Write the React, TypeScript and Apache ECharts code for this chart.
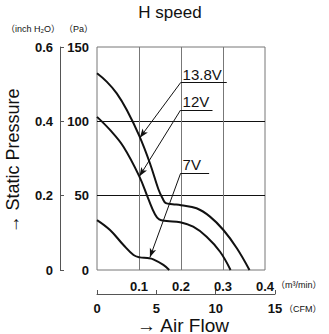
import React, { useEffect, useRef } from "react";
import * as echarts from "echarts";

// Air flow (m³/min) and static pressure (Pa)
const flow138 = [0, 0.023, 0.047, 0.071, 0.101, 0.126, 0.146, 0.156, 0.164, 0.18, 0.2, 0.237, 0.269, 0.301, 0.333, 0.363];
const pres138 = [132.3, 126.7, 118.8, 107.6, 90, 71.8, 54.5, 48.2, 45, 44.3, 43.6, 41.5, 35.9, 26.9, 14.6, 0];

const flow12 = [0, 0.031, 0.063, 0.101, 0.122, 0.138, 0.148, 0.166, 0.198, 0.229, 0.261, 0.293, 0.318];
const pres12 = [103, 94.2, 82.9, 62.8, 48, 37.5, 34, 33, 32.1, 29.1, 22.4, 12.3, 0];

const flow7 = [0, 0.031, 0.063, 0.087, 0.102, 0.12, 0.134, 0.158, 0.172];
const pres7 = [33.6, 26.9, 16.8, 10.1, 8.5, 8, 7.2, 3.4, 0];

const seriesNames = ["13.8V", "12V", "7V"];
// annotation leader lines in data units: underline y, underline end x, arrow tip
const labelLineStartX = 0.199;
const labelLineY = [126, 107.6, 65];
const labelLineEndX = [0.309, 0.275, 0.267];
const arrowTips = [
  [0.102, 89],
  [0.101, 63],
  [0.126, 8.5],
];

const cfmTicks = [0, 5, 10, 15];

const NUM_FONT = "'Liberation Sans Narrow', 'Liberation Sans', Arial, sans-serif";
const TEXT_FONT = "'Liberation Sans', Arial, sans-serif";
const UNIT_FONT = "'Liberation Sans', 'Noto Sans CJK JP', sans-serif";

function zip(xs: number[], ys: number[]) {
  return xs.map((x, i) => [x, ys[i]]);
}

export default function App() {
  const ref = useRef<HTMLDivElement>(null);
  useEffect(() => {
    if (!ref.current) return;
    const chart = echarts.init(ref.current, undefined, { renderer: "svg" });
    const curves = [zip(flow138, pres138), zip(flow12, pres12), zip(flow7, pres7)];
    const series: any[] = curves.map((data, i) => ({
      type: "line",
      name: seriesNames[i],
      xAxisIndex: 0,
      yAxisIndex: 0,
      data,
      smooth: 0.4,
      symbol: "none",
      lineStyle: { color: "#111", width: 2 },
      markLine: {
        silent: true,
        animation: false,
        lineStyle: { color: "#111", width: 1, type: "solid" },
        label: { show: false },
        data: [
          [
            {
              coord: [labelLineStartX, labelLineY[i]],
              symbol: "none",
              label: {
                show: true,
                position: "insideStartTop",
                formatter: seriesNames[i],
                color: "#111",
                fontSize: 15,
                fontFamily: TEXT_FONT,
                distance: [2, 1],
              },
            },
            { coord: [labelLineEndX[i], labelLineY[i]], symbol: "none" },
          ],
          [
            { coord: [labelLineStartX, labelLineY[i]], symbol: "none" },
            { coord: arrowTips[i], symbol: "arrow", symbolSize: [5, 9] },
          ],
        ],
      },
    }));

    const numLabel = { color: "#111", fontWeight: "bold", fontSize: 13, fontFamily: NUM_FONT, lineHeight: 12 };

    chart.setOption({
      animation: false,
      grid: [
        { left: 97, top: 47, width: 168, height: 223, show: true, borderColor: "#777", borderWidth: 1, backgroundColor: "transparent" },
        { left: 97, top: 200, width: 178, height: 94, show: false },
      ],
      xAxis: [
        {
          type: "value",
          gridIndex: 0,
          min: 0,
          max: 0.4,
          interval: 0.1,
          axisLine: { show: false },
          axisTick: { show: false },
          axisLabel: {
            ...numLabel,
            margin: 10,
            formatter: (v: number) => (v === 0 ? "" : v.toFixed(1)),
          },
          splitLine: { show: true, showMinLine: false, showMaxLine: false, lineStyle: { color: "#777", width: 1 } },
        },
        {
          type: "value",
          gridIndex: 1,
          min: 0,
          max: 15,
          interval: 5,
          axisLine: { show: true, onZero: false, lineStyle: { color: "#555", width: 1 } },
          axisTick: { show: true, inside: true, length: 4, lineStyle: { color: "#555" } },
          axisLabel: {
            ...numLabel,
            margin: 8,
            formatter: (v: number) => (cfmTicks.includes(v) ? String(v) : ""),
          },
          splitLine: { show: false },
        },
      ],
      yAxis: [
        {
          type: "value",
          gridIndex: 0,
          min: 0,
          max: 150,
          interval: 50,
          axisLine: { show: false },
          axisTick: { show: false },
          axisLabel: { ...numLabel, margin: 8 },
          splitLine: { show: true, showMinLine: false, showMaxLine: false, lineStyle: { color: "#111", width: 1 } },
        },
        {
          type: "value",
          gridIndex: 0,
          position: "left",
          offset: 37,
          min: 0,
          max: 0.6,
          interval: 0.2,
          axisLine: { show: true, lineStyle: { color: "#555", width: 1 } },
          axisTick: { show: true, inside: true, length: 4, lineStyle: { color: "#555" } },
          axisLabel: {
            ...numLabel,
            margin: 7,
            formatter: (v: number) => (v === 0 ? "0" : v.toFixed(1)),
          },
          splitLine: { show: false },
        },
        { type: "value", gridIndex: 1, show: false, min: 0, max: 1 },
      ],
      graphic: [
        { type: "text", x: 170, y: 12, style: { text: "H speed", fontSize: 17, fontFamily: TEXT_FONT, fill: "#111", align: "center", verticalAlign: "middle" } },
        { type: "text", x: 6, y: 29, style: { text: "（inch H₂O）", fontSize: 9, fontFamily: UNIT_FONT, fill: "#111", align: "left", verticalAlign: "middle" } },
        { type: "text", x: 64, y: 29, style: { text: "（Pa）", fontSize: 9, fontFamily: UNIT_FONT, fill: "#111", align: "left", verticalAlign: "middle" } },
        { type: "text", x: 276, y: 285, style: { text: "（m³/min）", fontSize: 9, fontFamily: UNIT_FONT, fill: "#111", align: "left", verticalAlign: "middle" } },
        { type: "text", x: 284, y: 309, style: { text: "（CFM）", fontSize: 9, fontFamily: UNIT_FONT, fill: "#111", align: "left", verticalAlign: "middle" } },
        { type: "text", x: 13, y: 161, rotation: Math.PI / 2, style: { text: "→ Static Pressure", fontSize: 18, fontFamily: TEXT_FONT, fill: "#111", align: "center", verticalAlign: "middle", lineHeight: 16 } },
        { type: "text", x: 183, y: 325, style: { text: "→ Air Flow", fontSize: 19, fontFamily: TEXT_FONT, fill: "#111", align: "center", verticalAlign: "middle", lineHeight: 16 } },
      ],
      series,
    });
    return () => chart.dispose();
  }, []);
  return <div ref={ref} style={{ position: "fixed", left: 0, top: 0, width: 329, height: 334, background: "#fff" }} />;
}
